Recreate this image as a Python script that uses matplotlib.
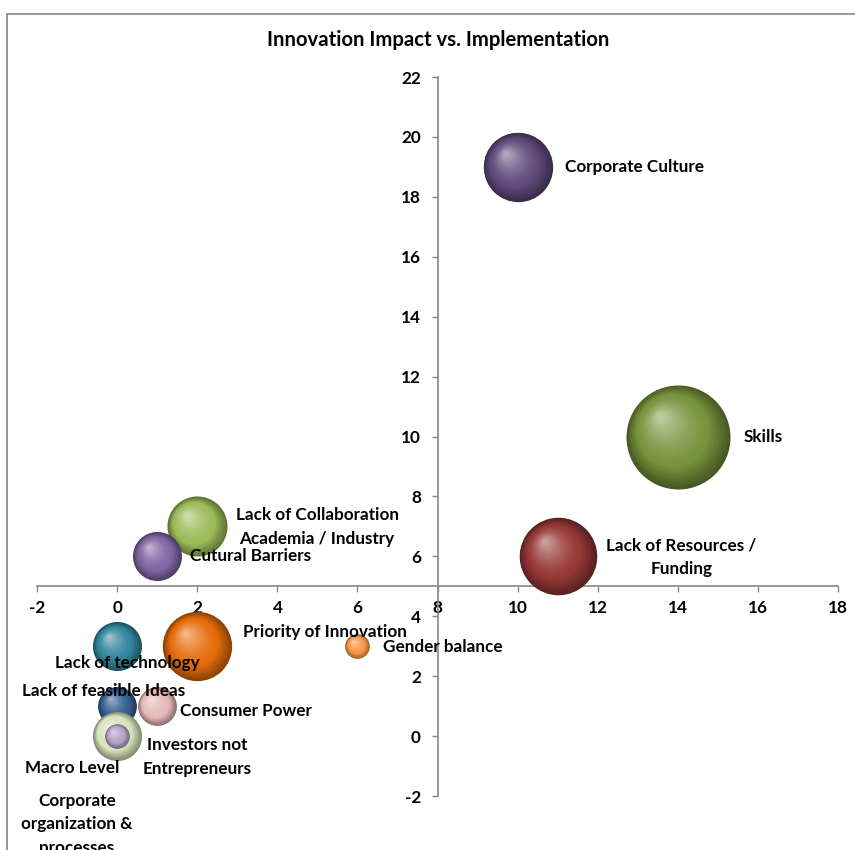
import numpy as np
import matplotlib.pyplot as plt
from matplotlib.colors import to_rgb
from matplotlib.patches import Rectangle
from matplotlib.transforms import offset_copy

plt.rcParams['font.family'] = ['Lato', 'DejaVu Sans']
plt.rcParams['font.weight'] = 'bold'
plt.rcParams['axes.unicode_minus'] = False

# bubble data: implementation (x), impact (y), weight (bubble area)
names = ['Skills', 'Lack of Resources /\nFunding', 'Corporate Culture',
         'Priority of Innovation', 'Lack of Collaboration\nAcademia / Industry',
         'Cutural Barriers', 'Lack of technology', 'Lack of feasible Ideas',
         'Consumer Power', 'Gender balance', 'Macro Level',
         'Investors not\nEntrepreneurs']
x_vals = [14, 11, 10, 2, 2, 1, 0, 0, 1, 6, 0, 0]
y_vals = [10, 6, 19, 3, 7, 6, 3, 1, 1, 3, 0, 0]
weights = [18, 10, 8, 8, 6, 4, 4, 2.5, 2.5, 1, 4, 1]
colors = ['#77933C', '#953735', '#604A7B', '#E46C0A', '#9BBB59', '#8064A2',
          '#31859C', '#366092', '#E6B9B8', '#F79646', '#D7E4BD', '#B3A2C7']

# label anchors (x, y, alignment)
label_pos = {
    'Skills': (15.65, 10.0, 'left'),
    'Lack of Resources /\nFunding': (14.08, 5.97, 'center'),
    'Corporate Culture': (11.18, 19.0, 'left'),
    'Priority of Innovation': (5.19, 3.49, 'center'),
    'Lack of Collaboration\nAcademia / Industry': (4.99, 6.97, 'center'),
    'Cutural Barriers': (3.32, 6.0, 'center'),
    'Lack of technology': (0.25, 2.43, 'center'),
    'Lack of feasible Ideas': (-0.33, 1.5, 'center'),
    'Consumer Power': (1.57, 0.83, 'left'),
    'Gender balance': (6.64, 2.97, 'left'),
    'Macro Level': (-1.13, -1.07, 'center'),
    'Investors not\nEntrepreneurs': (2.01, -0.71, 'center'),
}
extra_label = 'Corporate\norganization &\nprocesses'
extra_pos = (-1.0, -2.95)

fig = plt.figure(figsize=(8.55, 8.5), dpi=100)
ax = fig.add_axes([0.0433, 0.0635, 0.937, 0.8459])
ax.set_xlim(-2, 18)
ax.set_ylim(-2, 22)
ax.set_xticks(np.arange(-2, 19, 2))
ax.set_yticks(np.arange(-2, 23, 2))

# axes cross at x=8, y=5
ax.spines['left'].set_position(('data', 8))
ax.spines['bottom'].set_position(('data', 5))
ax.spines['top'].set_visible(False)
ax.spines['right'].set_visible(False)
for s in ('left', 'bottom'):
    ax.spines[s].set_color('#868686')
    ax.spines[s].set_linewidth(1.2)
ax.tick_params(axis='both', length=4, color='#868686', labelsize=12.3,
               pad=6, width=1.0)
ax.tick_params(axis='y', pad=8)
for lab in ax.get_xticklabels() + ax.get_yticklabels():
    lab.set_fontweight('bold')

max_w = max(weights)
max_diam = 104 * 72 / 100  # diameter of the largest bubble in points


def shade(base, t):
    base = np.array(to_rgb(base))
    dark = base * 0.6
    light = base + (1 - base) * 0.55
    if t < 0.3:
        return dark + (base - dark) * (t / 0.3)
    return base + (light - base) * ((t - 0.3) / 0.7) ** 1.4


n_layers = 30
for i, (x, y, w, c) in enumerate(zip(x_vals, y_vals, weights, colors)):
    diam = max_diam * np.sqrt(w / max_w)
    for k in range(n_layers):
        t = k / n_layers
        d = diam * (1 - t * 0.97)
        tr = offset_copy(ax.transData, fig=fig, x=-0.18 * diam * t,
                         y=0.2 * diam * t, units='points')
        ax.scatter([x], [y], s=d ** 2, color=shade(c, t), transform=tr,
                   linewidths=0, clip_on=False, zorder=10 + i)

for name in names:
    lx, ly, ha = label_pos[name]
    ax.text(lx, ly, name, ha=ha, va='center', fontsize=12.3,
            fontweight='bold', linespacing=1.6, zorder=50, clip_on=False)
ax.text(extra_pos[0], extra_pos[1], extra_label, ha='center', va='center',
        fontsize=12.3, fontweight='bold', linespacing=1.6, zorder=50,
        clip_on=False)

fig.text(438 / 855, 1 - 40 / 850, 'Innovation Impact vs. Implementation',
         ha='center', va='center', fontsize=14.6, fontweight='bold')

# chart frame
fig.patches.append(Rectangle((7 / 855, -0.05), 1.2, 1 - 14 / 850 + 0.05,
                             transform=fig.transFigure, fill=False,
                             edgecolor='#868686', linewidth=1.2))

fig.savefig('out.png', dpi=100)
